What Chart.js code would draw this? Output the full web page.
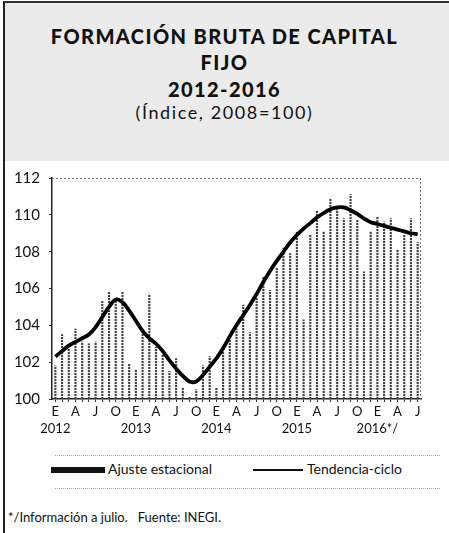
<!DOCTYPE html>
<html><head><meta charset="utf-8">
<script src="https://cdn.jsdelivr.net/npm/chart.js@4/dist/chart.umd.min.js"></script>
<style>
html,body{margin:0;padding:0;background:#fff;}
body{width:449px;height:533px;position:relative;overflow:hidden;font-family:Lato,"DejaVu Sans",sans-serif;color:#111;}
#frame{position:absolute;left:3px;top:1px;width:446px;height:532px;border-left:2px solid #222;border-top:2px solid #333;}
#head{position:absolute;left:5px;top:3px;width:444px;height:158px;background:#ebebeb;}
.t{position:absolute;left:0;width:449px;text-align:center;white-space:nowrap;}
.b{font-weight:900;font-size:20px;letter-spacing:1.4px;}
#cw{position:absolute;left:0;top:160px;width:449px;height:280px;}
.dl{position:absolute;left:55px;width:385px;border-top:1px dotted #aaa;}
#lg{position:absolute;top:460px;left:0;width:449px;height:20px;font-size:14px;}
#foot{position:absolute;left:8px;top:509px;font-size:13px;}
</style></head>
<body>
<div id="head"></div>
<div id="frame"></div>
<div class="t b" style="top:24px;">FORMACIÓN BRUTA DE CAPITAL</div>
<div class="t b" style="top:50px;">FIJO</div>
<div class="t b" style="top:77px;">2012-2016</div>
<div class="t" style="top:101px;font-size:18px;letter-spacing:1.6px;">(Índice, 2008=100)</div>
<div id="cw"><canvas id="c" width="449" height="280"></canvas></div>
<div class="dl" style="top:455px;"></div>
<div id="lg">
  <div style="position:absolute;left:51px;top:7px;width:54px;height:6px;background:#111;"></div>
  <div style="position:absolute;left:108px;top:0;">Ajuste estacional</div>
  <div style="position:absolute;left:253px;top:9px;width:50px;height:2px;background:#111;"></div>
  <div style="position:absolute;left:307px;top:0;">Tendencia-ciclo</div>
</div>
<div class="dl" style="top:488px;"></div>
<div id="foot">*/Información a julio.&nbsp;&nbsp; Fuente: INEGI.</div>
<script>
const years = ['2012','2013','2014','2015','2016*/'];
const monthCodes = ['E','F','M','A','M','J','J','A','S','O','N','D'];
const nMonths = 55; // enero 2012 - julio 2016
const categories = [];
for (let i = 0; i < nMonths; i++) categories.push(monthCodes[i % 12] + ' ' + years[Math.floor(i / 12)]);

const ajusteEstacional = [
 101.8,103.5,102.7,103.8,103.1,103.0,103.1,105.3,105.8,105.5,105.8,101.9,
 101.6,103.6,105.7,102.8,102.4,101.5,102.2,100.6,100.1,100.5,101.8,102.3,
 100.6,102.7,103.4,103.8,105.1,103.6,105.5,106.6,105.9,107.1,108.2,107.9,
 109.1,104.3,108.9,110.2,109.1,110.9,110.3,109.8,111.1,109.7,106.9,109.1,
 109.9,109.6,109.8,108.1,108.9,109.8,108.5
];
const tendenciaCiclo = [
 102.3,102.6,102.9,103.1,103.3,103.5,103.9,104.45,105.0,105.4,105.25,104.8,
 104.25,103.7,103.3,103.0,102.6,102.1,101.65,101.25,100.95,100.95,101.3,101.75,
 102.2,102.75,103.4,104.0,104.55,105.1,105.7,106.35,106.95,107.5,108.0,108.5,
 108.9,109.25,109.55,109.85,110.1,110.3,110.4,110.4,110.25,110.05,109.8,109.6,
 109.5,109.4,109.3,109.2,109.1,109.0,108.95
];
const yTicks = [100,102,104,106,108,110,112];

// dotted pattern for the bars
const pc = document.createElement('canvas'); pc.width = 2; pc.height = 3;
const px = pc.getContext('2d');
px.fillStyle = '#e4e4e4'; px.fillRect(0,0,2,3);
px.fillStyle = '#444'; px.fillRect(0,0,2,2);
const ctx = document.getElementById('c').getContext('2d');
const pattern = ctx.createPattern(pc, 'repeat');

const frameLines = {
  id: 'frameLines',
  afterDraw(chart) {
    const a = chart.chartArea, c = chart.ctx;
    c.save(); c.strokeStyle = '#777'; c.lineWidth = 1; c.setLineDash([2,2]);
    c.beginPath(); c.moveTo(a.left, a.top + 0.5); c.lineTo(a.right, a.top + 0.5);
    c.moveTo(a.right - 0.5, a.top); c.lineTo(a.right - 0.5, a.bottom); c.stroke();
    c.restore();
  }
};

new Chart(ctx, {
  data: {
    labels: categories,
    datasets: [
      { type: 'line', label: 'Tendencia-ciclo', data: tendenciaCiclo, borderColor: '#000', borderWidth: 3.8,
        pointRadius: 0, tension: 0.4, fill: false, order: 0 },
      { type: 'bar', label: 'Ajuste estacional', data: ajusteEstacional, backgroundColor: pattern,
        barThickness: 1.5, order: 1 }
    ]
  },
  options: {
    responsive: false, animation: false,
    layout: { padding: { left: 0, right: 28, top: 17, bottom: 0 } },
    plugins: { legend: { display: false }, tooltip: { enabled: false } },
    scales: {
      x: {
        offset: true,
        grid: { display: true, drawOnChartArea: false, drawTicks: true, tickLength: 3, color: '#333', offset: false },
        border: { display: true, color: '#222', width: 1.5 },
        ticks: {
          autoSkip: false, maxRotation: 0, minRotation: 0, padding: 1,
          color: '#111', font: { family: 'Lato', size: 13, lineHeight: 1.3 },
          callback: function(v, i) {
            if (i % 3 !== 0) return '';
            const m = monthCodes[i % 12];
            return (i % 12 === 0) ? [m, years[i / 12]] : [m, ''];
          }
        },
        afterFit: s => { s.height = 41; }
      },
      y: {
        min: 100, max: 112,
        afterBuildTicks: s => { s.ticks = yTicks.map(v => ({ value: v })); },
        grid: { drawOnChartArea: false, drawTicks: true, tickLength: 3, color: '#333' },
        border: { display: true, color: '#222', width: 1.5 },
        ticks: { padding: 9, color: '#111', font: { family: 'Lato', size: 15 } },
        afterFit: s => { s.width = 52; }
      }
    }
  },
  plugins: [frameLines]
});
</script>
</body></html>
